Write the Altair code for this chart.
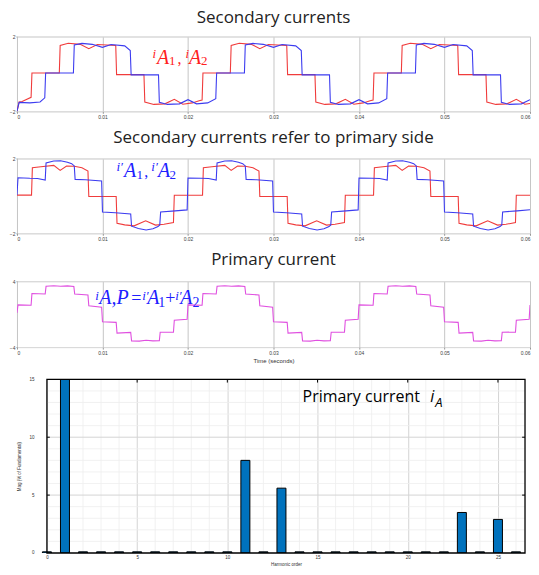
import altair as alt
import pandas as pd

# ---------------- Panel 1: secondary currents iA1 (red), iA2 (blue); time in ms ----------------
sec1_t = [0, 0.25, 0.6, 1.65, 1.75, 4.95, 5.05, 6.0, 7.4, 8.4, 9.4, 11.55, 11.65, 14.85, 14.95, 16.0, 17.3, 18.4, 19.4,
          20.5, 21.3, 21.65, 21.75, 24.95, 25.05, 26.0, 27.4, 28.4, 29.4, 31.55, 31.65, 34.85, 34.95, 36.0, 37.3, 38.4, 39.4,
          40.5, 41.3, 41.65, 41.75, 44.95, 45.05, 46.0, 47.4, 48.4, 49.4, 51.55, 51.65, 54.85, 54.95, 56.0, 57.3, 58.4, 59.4, 60.0]
sec1_v = [-2.0, -1.5, -1.47, -1.25, 0.05, 0.05, 1.52, 1.64, 1.58, 1.35, 1.57, 1.52, -0.04, -0.04, -1.5, -1.63, -1.6, -1.36, -1.62,
          -1.55, -1.43, -1.4, 0.05, 0.05, 1.52, 1.64, 1.58, 1.35, 1.57, 1.52, -0.04, -0.04, -1.5, -1.63, -1.6, -1.36, -1.62,
          -1.55, -1.43, -1.4, 0.05, 0.05, 1.52, 1.64, 1.58, 1.35, 1.57, 1.52, -0.04, -0.04, -1.5, -1.63, -1.6, -1.36, -1.62, -1.58]

sec2_t = [0, 0.25, 1.5, 2.7, 3.25, 3.35, 6.6, 6.7, 7.6, 8.8, 10.0, 11.0, 12.6, 13.25, 13.35, 16.55, 16.65, 17.6, 19.0, 20.0,
          21.0, 22.3, 23.25, 23.35, 26.6, 26.7, 27.6, 28.8, 30.0, 31.0, 32.6, 33.25, 33.35, 36.55, 36.65, 37.6, 39.0, 40.0,
          41.0, 42.3, 43.25, 43.35, 46.6, 46.7, 47.6, 48.8, 50.0, 51.0, 52.6, 53.25, 53.35, 56.55, 56.65, 57.6, 59.0, 60.0]
sec2_v = [-2.0, -1.52, -1.55, -1.5, -1.28, 0.05, 0.05, 1.55, 1.63, 1.58, 1.42, 1.57, 1.5, 1.25, -0.05, -0.05, -1.52, -1.63, -1.6, -1.38,
          -1.6, -1.55, -1.32, 0.05, 0.05, 1.55, 1.63, 1.58, 1.42, 1.57, 1.5, 1.25, -0.05, -0.05, -1.52, -1.63, -1.6, -1.38,
          -1.6, -1.55, -1.32, 0.05, 0.05, 1.55, 1.63, 1.58, 1.42, 1.57, 1.5, 1.25, -0.05, -0.05, -1.52, -1.63, -1.6, -1.38]

# ---------------- Panel 2: referred to primary i'A1 (red), i'A2 (blue) ----------------
ref1_t = [0, 1.7, 1.8, 2.8, 4.3, 5.05, 5.8, 6.7, 7.6, 8.3, 8.4, 11.6, 11.7, 12.6, 13.7, 15.05, 16.2, 17.2, 18.3, 18.4,
          21.7, 21.8, 22.8, 24.3, 25.05, 25.8, 26.7, 27.6, 28.3, 28.4, 31.6, 31.7, 32.6, 33.7, 35.05, 36.2, 37.2, 38.3, 38.4,
          41.7, 41.8, 42.8, 44.3, 45.05, 45.8, 46.7, 47.6, 48.3, 48.4, 51.6, 51.7, 52.6, 53.7, 55.05, 56.2, 57.2, 58.3, 58.4, 60.0]
ref1_v = [0.04, 0.04, 1.5, 1.56, 1.63, 1.36, 1.6, 1.58, 1.5, 1.33, -0.03, -0.03, -1.47, -1.55, -1.6, -1.33, -1.56, -1.52, -1.42, 0.03,
          0.03, 1.5, 1.56, 1.63, 1.36, 1.6, 1.58, 1.5, 1.33, -0.03, -0.03, -1.47, -1.55, -1.6, -1.33, -1.56, -1.52, -1.42, 0.03,
          0.03, 1.5, 1.56, 1.63, 1.36, 1.6, 1.58, 1.5, 1.33, -0.03, -0.03, -1.47, -1.55, -1.6, -1.33, -1.56, -1.52, -1.42, 0.03, 0.03]

ref2_t = [0, 0.12, 1.5, 2.4, 3.3, 3.4, 4.3, 5.1, 5.9, 6.4, 6.7, 6.8, 8.0, 9.9, 10.0, 11.5, 13.3, 13.4, 14.2, 15.1, 15.9, 16.5, 16.7, 16.8, 18.5, 19.9,
          20.0, 21.5, 22.4, 23.3, 23.4, 24.3, 25.1, 25.9, 26.4, 26.7, 26.8, 28.0, 29.9, 30.0, 31.5, 33.3, 33.4, 34.2, 35.1, 35.9, 36.5, 36.7, 36.8, 38.5, 39.9,
          40.0, 41.5, 42.4, 43.3, 43.4, 44.3, 45.1, 45.9, 46.4, 46.7, 46.8, 48.0, 49.9, 50.0, 51.5, 53.3, 53.4, 54.2, 55.1, 55.9, 56.5, 56.7, 56.8, 58.5, 60.0]
ref2_v = [0.05, 0.97, 0.94, 0.93, 0.85, 1.76, 1.86, 1.88, 1.8, 1.72, 1.6, 0.88, 0.86, 0.8, -0.86, -0.9, -0.97, -1.62, -1.74, -1.82, -1.76, -1.64, -1.55, -0.86, -0.8, -0.75,
          0.95, 0.94, 0.93, 0.85, 1.76, 1.86, 1.88, 1.8, 1.72, 1.6, 0.88, 0.86, 0.8, -0.86, -0.9, -0.97, -1.62, -1.74, -1.82, -1.76, -1.64, -1.55, -0.86, -0.8, -0.75,
          0.95, 0.94, 0.93, 0.85, 1.76, 1.86, 1.88, 1.8, 1.72, 1.6, 0.88, 0.86, 0.8, -0.86, -0.9, -0.97, -1.62, -1.74, -1.82, -1.76, -1.64, -1.55, -0.86, -0.8, -0.74]

# ---------------- Panel 3: primary current ----------------
pri_t = [0, 0.12, 1.65, 1.75, 3.3, 3.4, 4.3, 5.1, 5.9, 6.65, 6.75, 8.3, 8.4, 9.9, 10.0, 11.6, 11.7, 13.3, 13.4, 14.3, 15.1, 15.9, 16.65, 16.75, 18.3, 18.4, 19.9,
         20.0, 21.65, 21.75, 23.3, 23.4, 24.3, 25.1, 25.9, 26.65, 26.75, 28.3, 28.4, 29.9, 30.0, 31.6, 31.7, 33.3, 33.4, 34.3, 35.1, 35.9, 36.65, 36.75, 38.3, 38.4, 39.9,
         40.0, 41.65, 41.75, 43.3, 43.4, 44.3, 45.1, 45.9, 46.65, 46.75, 48.3, 48.4, 49.9, 50.0, 51.6, 51.7, 53.3, 53.4, 54.3, 55.1, 55.9, 56.65, 56.75, 58.3, 58.4, 59.9, 60.0]
pri_v = [0.15, 1.12, 1.08, 2.5, 2.45, 3.38, 3.45, 3.38, 3.43, 3.35, 2.45, 2.32, 1.02, 0.85, -0.92, -1.0, -2.3, -2.22, -3.25, -3.28, -3.17, -3.24, -3.22, -2.2, -2.18, -0.75, -0.63,
         1.12, 1.08, 2.5, 2.45, 3.38, 3.45, 3.38, 3.43, 3.35, 2.45, 2.32, 1.02, 0.85, -0.92, -1.0, -2.3, -2.22, -3.25, -3.28, -3.17, -3.24, -3.22, -2.2, -2.18, -0.75, -0.63,
         1.12, 1.08, 2.5, 2.45, 3.38, 3.45, 3.38, 3.43, 3.35, 2.45, 2.32, 1.02, 0.85, -0.92, -1.0, -2.3, -2.22, -3.25, -3.28, -3.17, -3.24, -3.22, -2.2, -2.18, -0.75, -0.63, 1.1]

# ---------------- Panel 4: harmonic spectrum ----------------
harm = [0, 1, 2, 3, 4, 5, 6, 7, 8, 9, 10, 11, 12, 13, 14, 15, 16, 17, 18, 19, 20, 21, 22, 23, 24, 25, 26]
mag = [0.1, 100, 0.1, 0.1, 0.1, 0.1, 0.1, 0.1, 0.1, 0.1, 0.1, 8.0, 0.1, 5.6, 0.1, 0.1, 0.1, 0.1, 0.1, 0.1, 0.1, 0.1, 0.1, 3.5, 0.1, 2.9, 0.1]
h_major = [0, 5, 10, 15, 20, 25]
h_minor = [1, 2, 3, 4, 6, 7, 8, 9, 11, 12, 13, 14, 16, 17, 18, 19, 21, 22, 23, 24, 26]
m_major = [0, 5, 10, 15]
m_grid = [5, 10]
m_minor = [1, 2, 3, 4, 6, 7, 8, 9, 11, 12, 13, 14]
t_ticks = [0, 10, 20, 30, 40, 50, 60]
H_MAX = 26.5
M_MAX = 15

RED = "#f03c3c"
BLUE = "#3c3cf0"
MAG = "#e050e0"
TFONT = "Open Sans"
W = 514

def xenc(title=None):
    return alt.X("t:Q", scale=alt.Scale(domain=[0, 60], nice=False),
                 axis=alt.Axis(values=t_ticks, title=title,
                               labelExpr="datum.value == 0 ? '0' : format(datum.value/1000, '.2f')",
                               labelFontSize=5, labelColor="#444", labelPadding=1, labelFlush=True,
                               tickSize=2, tickColor="#999", domain=False,
                               grid=True, gridColor="#c6c6c6",
                               titleFontSize=6, titleFontWeight="normal", titleColor="#333",
                               titlePadding=2, titleFont="Liberation Sans"))

def yenc(dom, vals):
    return alt.Y("v:Q", scale=alt.Scale(domain=dom, nice=False),
                 axis=alt.Axis(values=vals, title=None, labelFontSize=5, labelColor="#444",
                               labelPadding=1, tickSize=1, tickColor="#999", domain=False,
                               grid=True, gridColor="#dadada"))

def line(t, v, color, dom, vals, xtitle=None):
    return alt.Chart(pd.DataFrame({"t": t, "v": v})).mark_line(
        color=color, strokeWidth=1.1, clip=True).encode(x=xenc(xtitle), y=yenc(dom, vals))

def note(t, v, parts, color):
    """parts: (text, dx px, dy px, font size, italic) placed from one anchor point."""
    layers = []
    for txt, dx, dy, size, ital in parts:
        layers.append(alt.Chart(pd.DataFrame({"t": [t], "v": [v], "s": [txt]})).mark_text(
            font="Liberation Serif", fontStyle="italic" if ital else "normal", fontSize=size,
            color=color, align="left", baseline="alphabetic", dx=dx, dy=dy
        ).encode(x="t:Q", y="v:Q", text="s:N"))
    return layers

def title(txt, off):
    return alt.TitleParams(txt, fontSize=17, font=TFONT, fontWeight="normal", color="#222",
                           anchor="middle", offset=off)

view_w = alt.ViewBackground(stroke="#d4d4d4", strokeWidth=1)

note1 = [("i", 0, -6, 13, True), ("A", 4.5, 0, 20, True), ("1", 16.5, 1, 13, False), (",", 25, 0, 16, False),
         ("i", 33, -6, 13, True), ("A", 36.5, 0, 20, True), ("2", 48.5, 1, 13, False)]
note2 = [("i′", 0, -6, 13, True), ("A", 7.7, 0, 20, True), ("1", 20, 2, 13, False), (",", 28, 0, 16, False),
         ("i′", 35, -6, 13, True), ("A", 41.7, 0, 20, True), ("2", 53.3, 2, 13, False)]
note3 = [("i", 0, -4, 13, True), ("A,P", 4, 0, 20, True), ("=", 36, 0, 18, False),
         ("i′", 47, -4, 13, True), ("A", 52, 0, 20, True), ("1", 63, 3, 14, False), ("+", 70, 0, 18, False),
         ("i′", 80, -4, 13, True), ("A", 85, 0, 20, True), ("2", 97.5, 3, 14, False)]

c1 = alt.layer(
    line(sec1_t, sec1_v, RED, [-2, 2], [-2, -1, 0, 1, 2]),
    line(sec2_t, sec2_v, BLUE, [-2, 2], [-2, -1, 0, 1, 2]),
    *note(15.85, 0.54, note1, "#ff2020"),
).properties(width=W, height=75, title=title("Secondary currents", 7.5), view=view_w)

c2 = alt.layer(
    line(ref1_t, ref1_v, RED, [-2, 2], [-2, -1, 0, 1, 2]),
    line(ref2_t, ref2_v, BLUE, [-2, 2], [-2, -1, 0, 1, 2]),
    *note(11.63, 1.01, note2, "#2020ff"),
).properties(width=W, height=75, title=title("Secondary currents refer to primary side", 9), view=view_w)

c3 = alt.layer(
    line(pri_t, pri_v, MAG, [-4, 4], [-4, -2, 0, 2, 4], xtitle="Time (seconds)"),
    *note(9.16, 1.18, note3, "#2020ff"),
).properties(width=W, height=66, title=title("Primary current", 10.5), view=view_w)

# ---- harmonic bar chart: the plot's frame starts 25px right of the waveform plots ----
hscale = alt.Scale(domain=[0, H_MAX], nice=False, range=[25, W])
mscale = alt.Scale(domain=[0, M_MAX], nice=False)
hx = alt.X("h:Q", scale=hscale,
           axis=alt.Axis(values=h_major, title="Harmonic order", labelFontSize=4.5, labelColor="#333",
                         tickSize=0, labelPadding=2, domain=False, grid=True, gridColor="#d4d4d4",
                         titleFontSize=4.5, titleFontWeight="normal", titlePadding=2, titleColor="#333"))
my = alt.Y("m:Q", scale=mscale,
           axis=alt.Axis(values=m_major, title="Mag (% of Fundamental)", labelFontSize=4.5, labelColor="#333",
                         tickSize=0, labelPadding=8, domain=False, grid=False, offset=-25,
                         titleFontSize=4.5, titleFontWeight="normal", titlePadding=7, titleColor="#333"))

bars = alt.Chart(pd.DataFrame({"h": harm, "m": mag})).mark_bar(
    size=9, color="#0072BD", stroke="black", strokeWidth=1, clip=True).encode(x=hx, y=my)
minor_x = alt.Chart(pd.DataFrame({"h": h_minor})).mark_rule(color="#eeeeee", strokeWidth=0.8).encode(
    x=alt.X("h:Q", scale=hscale))
minor_y = alt.Chart(pd.DataFrame({"m": m_minor})).mark_rule(color="#eeeeee", strokeWidth=0.8).encode(
    y=alt.Y("m:Q", scale=mscale), x=alt.datum(0), x2=alt.datum(H_MAX))
major_y = alt.Chart(pd.DataFrame({"m": m_grid})).mark_rule(color="#d4d4d4", strokeWidth=1).encode(
    y=alt.Y("m:Q", scale=mscale), x=alt.datum(0), x2=alt.datum(H_MAX))
top_ticks = alt.Chart(pd.DataFrame({"h": h_major[1:]})).mark_rule(color="black", strokeWidth=1).encode(
    x="h:Q", y=alt.datum(M_MAX), y2=alt.datum(14.72))
left_ticks = alt.Chart(pd.DataFrame({"m": m_grid})).mark_rule(color="black", strokeWidth=1).encode(
    y="m:Q", x=alt.datum(0), x2=alt.datum(0.16))
right_ticks = alt.Chart(pd.DataFrame({"m": m_grid})).mark_rule(color="black", strokeWidth=1).encode(
    y="m:Q", x=alt.datum(H_MAX - 0.16), x2=alt.datum(H_MAX))
frame = alt.Chart(pd.DataFrame({"a": [0]})).mark_rect(fillOpacity=0, stroke="black", strokeWidth=1.3).encode(
    x=alt.datum(0), x2=alt.datum(H_MAX), y=alt.datum(0), y2=alt.datum(M_MAX))

def label(txt, dx, dy, size, ital):
    return alt.Chart(pd.DataFrame({"h": [14.17], "m": [13.03], "s": [txt]})).mark_text(
        font=TFONT, fontSize=size, fontStyle="italic" if ital else "normal", color="black",
        align="left", baseline="alphabetic", dx=dx, dy=dy).encode(x="h:Q", y="m:Q", text="s:N")

c4 = alt.layer(minor_x, minor_y, major_y, bars, top_ticks, left_ticks, right_ticks, frame,
               label("Primary current", 0, 0, 16, False), label("i", 128, 0, 16, True),
               label("A", 133, 5, 13, True)).properties(
    width=W, height=174, view=alt.ViewBackground(strokeOpacity=0))

inner = alt.vconcat(c1, c2, spacing=8.2)
mid = alt.vconcat(inner, c3, spacing=8.2)
chart = alt.vconcat(mid, c4, spacing=12.5).properties(padding=0, background="white")

chart.save("out.html", embed_options={"renderer": "svg", "actions": False})
